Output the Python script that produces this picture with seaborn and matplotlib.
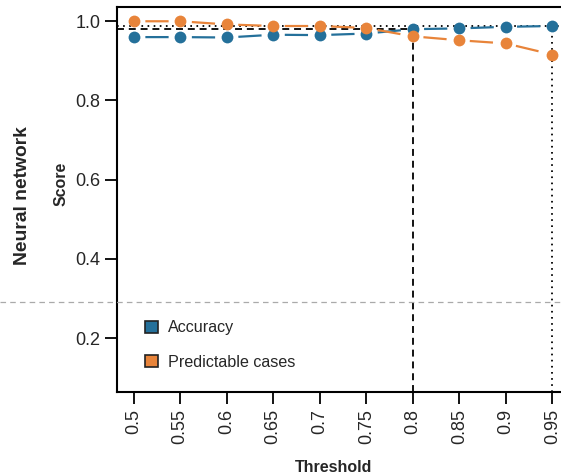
import matplotlib
matplotlib.use("Agg")
import matplotlib.pyplot as plt
import seaborn as sns
import pandas as pd
from matplotlib.patches import Patch
from matplotlib.lines import Line2D

thresholds = [0.5, 0.55, 0.6, 0.65, 0.7, 0.75, 0.8, 0.85, 0.9, 0.95]
accuracy = [0.960, 0.960, 0.959, 0.966, 0.965, 0.969, 0.980, 0.982, 0.986, 0.988]
predictable = [1.000, 1.000, 0.992, 0.988, 0.988, 0.983, 0.962, 0.952, 0.944, 0.916]
series_names = ["Accuracy", "Predictable cases"]
colors = ["#24709a", "#e8843a"]
xtick_labels = ["0.5", "0.55", "0.6", "0.65", "0.7", "0.75", "0.8", "0.85", "0.9", "0.95"]
ytick_vals = [0.2, 0.4, 0.6, 0.8, 1.0]
chosen_threshold = 0.8
chosen_score = 0.980
final_threshold = 0.95
final_score = 0.988

df = pd.DataFrame({
    "Threshold": thresholds * 2,
    "Score": accuracy + predictable,
    "Series": [series_names[0]] * len(thresholds) + [series_names[1]] * len(thresholds),
})

sns.set_style("white")
plt.rcParams["font.family"] = ["Liberation Sans", "DejaVu Sans"]
plt.rcParams["lines.scale_dashes"] = False

DPI = 100
fig = plt.figure(figsize=(5.61, 4.74), dpi=DPI)
ax = fig.add_axes([117 / 561, 1 - 392 / 474, (569 - 117) / 561, (392 - 7) / 474])

xmin, xmax = 0.482, 0.968
ymin, ymax = 0.064, 1.036
ax.set_xlim(xmin, xmax)
ax.set_ylim(ymin, ymax)

sns.lineplot(data=df, x="Threshold", y="Score", hue="Series",
             palette=dict(zip(series_names, colors)), marker="o",
             markersize=8.5, markeredgewidth=0, linewidth=1.6,
             legend=False, ax=ax, zorder=3)
ax.set_xlim(xmin, xmax)
ax.set_ylim(ymin, ymax)

# one dash per segment, centred between markers
step_px = ax.transData.transform((thresholds[1], 0))[0] - ax.transData.transform((thresholds[0], 0))[0]
step_pt = step_px * 72 / DPI
on_pt = 0.50 * step_pt
off_pt = step_pt - on_pt
for ln in ax.get_lines():
    ln.set_linestyle((on_pt + off_pt / 2, (on_pt, off_pt)))

# reference lines
dash = (0, (5, 3.5))
dot = (0, (1.2, 3.2))
ax.plot([xmin, chosen_threshold], [chosen_score, chosen_score], color="black",
        linestyle=dash, linewidth=1.3, zorder=2)
ax.plot([chosen_threshold, chosen_threshold], [ymin, chosen_score], color="black",
        linestyle=dash, linewidth=1.3, zorder=2)
ax.plot([xmin, xmax], [final_score, final_score], color="black",
        linestyle=dot, linewidth=1.3, zorder=2)
ax.plot([final_threshold, final_threshold], [ymin, final_score], color="black",
        linestyle=dot, linewidth=1.3, zorder=2)

ax.set_xticks(thresholds)
ax.set_xticklabels(xtick_labels, rotation=90, fontsize=13)
ax.set_yticks(ytick_vals)
ax.set_yticklabels([f"{v:.1f}" for v in ytick_vals], fontsize=13)
ax.tick_params(axis="both", direction="out", length=8.6, width=1.3, color="black",
               bottom=True, left=True, pad=3.5)
for s in ax.spines.values():
    s.set_color("black")
    s.set_linewidth(1.5)

ax.set_xlabel("Threshold", fontsize=11.5, fontweight="bold")
ax.xaxis.label.set_va("center")
ax.xaxis.set_label_coords((334 - 117) / 452, (392 - 467) / 385)
ax.set_ylabel("Score", fontsize=11.4, fontweight="bold")
ax.yaxis.label.set_va("center")
ax.yaxis.set_label_coords((61 - 117) / 452, (392 - 184) / 385)
fig.text(23 / 561, 1 - 196 / 474, "Neural network", rotation=90, ha="center",
         va="center", fontsize=13.9, fontweight="bold")

handles = [Patch(facecolor=c, edgecolor="#222222", linewidth=1.2, label=n)
           for c, n in zip(colors, series_names)]
ax.legend(handles=handles, loc="lower left", bbox_to_anchor=(0.030, 0.02),
          frameon=False, fontsize=11.6, handlelength=0.8, handleheight=0.8,
          labelspacing=1.2, handletextpad=0.65)

fig.add_artist(Line2D([0, 1], [1 - 302 / 474, 1 - 302 / 474], color="#aaaaaa",
                      linestyle=(0, (4, 3)), linewidth=0.9, transform=fig.transFigure))

fig.savefig("out.png", dpi=DPI)
